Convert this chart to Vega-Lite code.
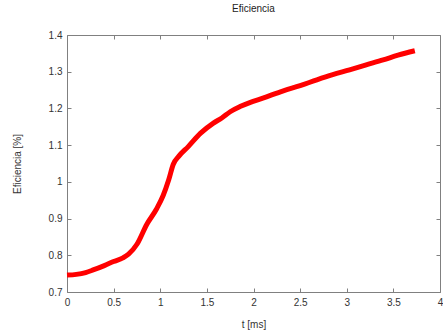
{
  "$schema": "https://vega.github.io/schema/vega-lite/v6.json",
  "autosize": "none",
  "width": 373,
  "height": 257,
  "padding": {"left": 67, "top": 35, "right": 3, "bottom": 41},
  "title": {"text": "Eficiencia", "font": "Liberation Sans", "fontSize": 10, "fontWeight": "normal", "color": "#222", "offset": 16, "anchor": "middle"},
  "config": {
    "view": {"stroke": "#808080", "strokeWidth": 1},
    "axis": {"grid": false, "domain": false, "tickColor": "#808080", "tickSize": -4, "labelFlush": false, "labelOverlap": false, "labelFont": "Liberation Sans", "labelFontSize": 10, "labelColor": "#333", "titleFont": "Liberation Sans", "titleFontSize": 10, "titleFontWeight": "normal", "titleColor": "#333", "format": "~g"}
  },
  "data": {"values": [
    {"t": 0.0, "e": 0.746},
    {"t": 0.1, "e": 0.748},
    {"t": 0.2, "e": 0.753},
    {"t": 0.28, "e": 0.760},
    {"t": 0.4, "e": 0.772},
    {"t": 0.5, "e": 0.783},
    {"t": 0.6, "e": 0.793},
    {"t": 0.66, "e": 0.803},
    {"t": 0.75, "e": 0.830},
    {"t": 0.855, "e": 0.884},
    {"t": 0.96, "e": 0.926},
    {"t": 1.03, "e": 0.962},
    {"t": 1.09, "e": 1.005},
    {"t": 1.14, "e": 1.048},
    {"t": 1.2, "e": 1.070},
    {"t": 1.3, "e": 1.096},
    {"t": 1.43, "e": 1.132},
    {"t": 1.57, "e": 1.160},
    {"t": 1.66, "e": 1.174},
    {"t": 1.75, "e": 1.191},
    {"t": 1.855, "e": 1.205},
    {"t": 1.96, "e": 1.216},
    {"t": 2.1, "e": 1.228},
    {"t": 2.32, "e": 1.248},
    {"t": 2.5, "e": 1.262},
    {"t": 2.68, "e": 1.278},
    {"t": 2.85, "e": 1.292},
    {"t": 3.03, "e": 1.305},
    {"t": 3.2, "e": 1.318},
    {"t": 3.39, "e": 1.332},
    {"t": 3.55, "e": 1.345},
    {"t": 3.73, "e": 1.357}
  ]},
  "layer": [
    {
      "mark": {"type": "line", "color": "#ff0000", "strokeWidth": 5, "interpolate": "monotone"},
      "encoding": {
        "x": {"field": "t", "type": "quantitative", "scale": {"domain": [0, 4], "nice": false}, "axis": {"orient": "bottom", "title": "t [ms]", "values": [0, 0.5, 1, 1.5, 2, 2.5, 3, 3.5, 4], "labelPadding": 9, "titlePadding": 12}},
        "y": {"field": "e", "type": "quantitative", "scale": {"domain": [0.7, 1.4], "nice": false, "zero": false}, "axis": {"orient": "left", "title": "Eficiencia [%]", "values": [0.7, 0.8, 0.9, 1.0, 1.1, 1.2, 1.3, 1.4], "labelPadding": 9, "titlePadding": 26}}
      }
    },
    {
      "mark": {"type": "line", "opacity": 0},
      "encoding": {
        "x": {"field": "t", "type": "quantitative", "axis": {"orient": "top", "title": null, "labels": false, "values": [0, 0.5, 1, 1.5, 2, 2.5, 3, 3.5, 4]}},
        "y": {"field": "e", "type": "quantitative", "axis": {"orient": "right", "title": null, "labels": false, "values": [0.7, 0.8, 0.9, 1.0, 1.1, 1.2, 1.3, 1.4]}}
      }
    }
  ],
  "resolve": {"axis": {"x": "independent", "y": "independent"}}
}
